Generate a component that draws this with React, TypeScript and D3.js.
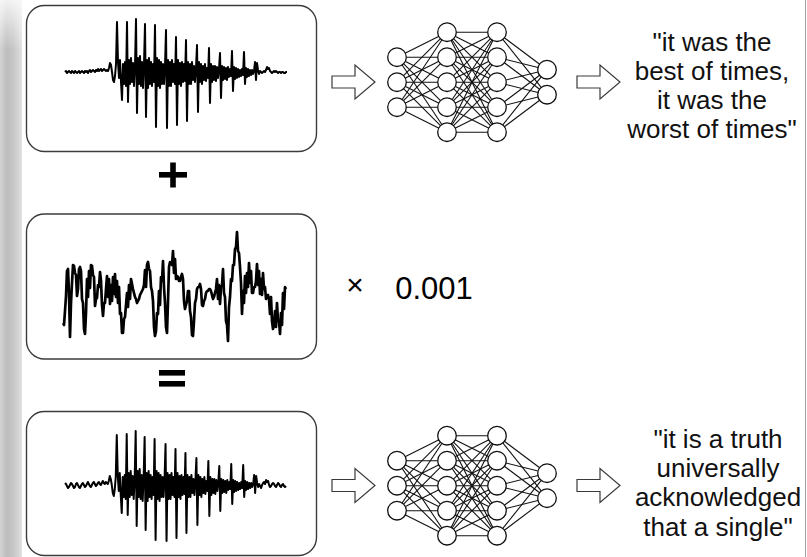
import React from 'react';
import * as d3 from 'd3';

// clean utterance, amplitude per sample (up = positive)
const cleanSpeech = [
  0, 1, -1, 0, 1, 0, -1, 1, 0, -1, 1, 0, -1, 0, 1, -1, 0, 1, 0, -1, 1, 0, 1, -1, 1, 2, 0, 1, 2, 1, 0, 2, 1, 3, 1, 2, 3, 1, 2, 3, 2, 1, 2, 1,
  4, 9, 7, 0, -8, -10, -4, 8,
  50, 10, -6, 12, -10, -28, 8, -12, 10, -14,
  50, -30, 12, -12, 14, -10, 9, -14, 6,
  53, -41, 14, -12, 16, -14, 10, -16, 8,
  48, -45, 12, -16, 14, -12, 10, -14, 8, -10,
  47, -55, 14, -14, 12, -16, 10, -12, 8, -12, 6,
  42, -56, 12, -14, 10, -14, 12, -10, 8, -12,
  35, -53, 12, -12, 9, -14, 10, -10, 8, -9,
  32, -49, 10, -12, 8, -12, 10, -8, 6, -10, 4,
  27, -40, 10, -10, 8, -12, 6, -8, 8, -9, 4, -6,
  24, -31, 8, -10, 6, -8, 6, -9, 5, -6, 3,
  19, -26, 6, -8, 5, -7, 4, -8, 5, -5, 3, -4,
  21, -19, 5, -7, 4, -6, 3, -5, 2, -4, 3, -3,
  20, -12, 4, -5, 3, -4, 2, -3, 2, -2, 1,
  10, -8, 9, 2, -2, 1, 0, -1, 0, 1, 0, 2,
  5, 3, 4, 1, 0, -1, 0, 1, 0, 1, 0, -1, 0, 0, -1, 0, 0, -1, -1, 0, 0,
];

// perturbation (drawn enlarged)
const perturbation = [
  -36, -38, -24, -9, 16, 18, -6, -50, -16, 4, 22, 21, 14, 12, -9, -2, 18, 20, 16, -12,
  -16, -42, -47, -26, 8, -10, 16, -1, 22, 21, 12, 10, -19, -12, -11, 2, 0, 15, 6, -18,
  -29, -16, -16, -2, 11, -10, 8, -17, 2, -14, 10, -7, 13, -10, 6, -16, 0, -27, -26, -46,
  -46, -32, -30, -18, -6, -20, 2, -12, 8, 3, -2, -6, -10, -12, -16, -14, -12, -8, -6, -4,
  -2, 2, 17, 0, 22, 25, 18, 16, 0, -4, -14, -40, -49, -44, -26, -27, -4, -18, 10, 6,
  26, 0, -16, -40, -46, -14, 20, 25, 24, 22, 36, 14, 28, 8, 11, 10, 6, 6, 10, 13,
  8, -14, -22, -18, -14, -4, -4, -24, -30, -48, -49, -34, -16, -12, -2, 0, 0, 3, -2, -18,
  -19, -14, -12, -6, -4, -4, -2, -2, -4, -8, -12, -10, -6, -2, 8, -12, 2, -17, 0, 2,
  18, -6, -10, -34, -38, -54, -20, -10, 8, 6, 22, 22, 38, 40, 55, 36, 34, 20, 4, -27,
  -4, -16, 11, -6, 14, 0, 24, 4, 16, -6, -6, 0, 0, 6, 23, 2, 16, -7, 8, -8,
  14, -2, 0, -12, -9, -8, -12, -27, -10, -34, -42, -38, -24, -40, -16, -34, -34, -47, -26, -38,
  -6, -22, 0, -2,
];

// clean + perturbation
const adversarialSpeech = [
  2, 1, -1, -3, -2, 0, 2, 1, -1, -3, -2, 1, 2, 0, -2, -3, -1, 1, 2, 0, -2, -1, 1, 3, 1, -1, -2, 0, 2, 3, 1, -1, 0, 2, 3, 1, 0, 2, 4, 2, 1, 3, 2, 1,
  4, 9, 6, 0, -8, -11, -4, 8,
  50, 10, -6, 12, -10, -28, 8, -12, 10, -14,
  51, -30, 12, -12, 14, -10, 9, -14, 6,
  54, -41, 14, -12, 16, -14, 10, -16, 8,
  48, -45, 12, -16, 14, -12, 10, -14, 8, -10,
  46, -55, 14, -14, 12, -16, 10, -12, 8, -12, 6,
  41, -56, 12, -14, 10, -14, 12, -10, 8, -12,
  36, -53, 12, -12, 9, -14, 10, -10, 8, -9,
  32, -48, 10, -12, 8, -12, 10, -8, 6, -10, 4,
  27, -40, 10, -10, 8, -12, 6, -8, 8, -9, 4, -6,
  24, -31, 8, -10, 6, -8, 6, -9, 5, -6, 3,
  19, -26, 6, -8, 5, -7, 4, -8, 5, -5, 3, -4,
  21, -19, 5, -7, 4, -6, 3, -5, 2, -4, 3, -3,
  20, -12, 4, -5, 3, -4, 2, -3, 2, -2, 1,
  10, -8, 9, 2, -2, 1, -1, -3, 0, 2, 3, 1,
  5, 3, 4, 0, -2, -1, 1, 2, 1, -1, -2, 0, 2, 1, -1, -2, 0, 1, -1, -2, -1,
];

const layerSizes = [3, 5, 5, 2];
const scaleFactor = '0.001';
const transcriptClean = ['"it was the', 'best of times,', 'it was the', 'worst of times"'];
const transcriptAdv = ['"it is a truth', 'universally', 'acknowledged', 'that a single"'];

const FONT = "'Liberation Sans', Arial, Helvetica, sans-serif";
const BOX_STROKE = '#3c3c3c';

function Wave({ values, x0, x1, cy, sw }: { values: number[]; x0: number; x1: number; cy: number; sw: number }) {
  const x = d3.scaleLinear().domain([0, values.length - 1]).range([x0, x1]);
  const y = d3.scaleLinear().domain([-60, 60]).range([cy + 60, cy - 60]);
  const line = d3.line<number>().x((_, i) => x(i)).y((d) => y(d));
  return <path d={line(values) || ''} fill="none" stroke="#000" strokeWidth={sw} strokeLinejoin="round" />;
}

function Net({ cx0, cy }: { cx0: number; cy: number }) {
  const lx = d3.scaleLinear().domain([0, layerSizes.length - 1]).range([cx0, cx0 + 150]);
  const nodes = layerSizes.map((n, li) =>
    d3.range(n).map((k) => ({ x: lx(li), y: cy + (k - (n - 1) / 2) * 25 }))
  );
  const links: { a: { x: number; y: number }; b: { x: number; y: number } }[] = [];
  for (let li = 0; li < nodes.length - 1; li++) {
    nodes[li].forEach((a) => nodes[li + 1].forEach((b) => links.push({ a, b })));
  }
  return (
    <g>
      {links.map((l, i) => (
        <line key={i} x1={l.a.x} y1={l.a.y} x2={l.b.x} y2={l.b.y} stroke="#111" strokeWidth={1.1} />
      ))}
      {nodes.flat().map((p, i) => (
        <circle key={i} cx={p.x} cy={p.y} r={9.3} fill="#fff" stroke="#111" strokeWidth={1.3} />
      ))}
    </g>
  );
}

function Arrow({ x, cy }: { x: number; cy: number }) {
  const d = `M${x},${cy - 6}H${x + 23}V${cy - 17}L${x + 43},${cy}L${x + 23},${cy + 17}V${cy + 6}H${x}Z`;
  return <path d={d} fill="#fff" stroke="#3a3a3a" strokeWidth={1.2} strokeLinejoin="miter" />;
}

function Transcript({ lines, cx, y0 }: { lines: string[]; cx: number; y0: number }) {
  return (
    <text textAnchor="middle" fontFamily={FONT} fontSize={26} fill="#111">
      {lines.map((t, i) => (
        <tspan key={i} x={cx} y={y0 + i * 29.2}>{t}</tspan>
      ))}
    </text>
  );
}

export default function App() {
  const W = 807;
  const H = 557;
  return (
    <svg width={W} height={H} viewBox={`0 0 ${W} ${H}`} style={{ position: 'absolute', left: 0, top: 0, background: '#fff' }}>
      <defs>
        <linearGradient id="strip" x1="0" x2="1" y1="0" y2="0">
          <stop offset="0" stopColor="#d4d4d4" />
          <stop offset="0.3" stopColor="#bdbdbd" />
          <stop offset="0.6" stopColor="#c6c6c6" />
          <stop offset="0.85" stopColor="#d6d6d6" />
          <stop offset="1" stopColor="#e2e2e2" />
        </linearGradient>
        <linearGradient id="stripTop" x1="0" x2="0" y1="0" y2="1">
          <stop offset="0" stopColor="#fff" stopOpacity={0.8} />
          <stop offset="1" stopColor="#fff" stopOpacity={0} />
        </linearGradient>
      </defs>

      {/* window edge decorations */}
      <rect x={0} y={0} width={22} height={H} fill="url(#strip)" />
      <rect x={0} y={0} width={22} height={50} fill="url(#stripTop)" />
      <line x1={805.5} y1={0} x2={805.5} y2={H} stroke="#a0a0a0" strokeWidth={1} />

      {/* boxes */}
      <rect x={26.5} y={5.5} width={290} height={146} rx={18} fill="#fff" stroke={BOX_STROKE} strokeWidth={1.4} />
      <rect x={26.5} y={214} width={290} height={145} rx={18} fill="#fff" stroke={BOX_STROKE} strokeWidth={1.4} />
      <rect x={26.5} y={411.5} width={290} height={144} rx={18} fill="#fff" stroke={BOX_STROKE} strokeWidth={1.4} />

      <Wave values={cleanSpeech} x0={65} x1={287} cy={72} sw={2} />
      <Wave values={perturbation} x0={63} x1={286} cy={287} sw={2.7} />
      <Wave values={adversarialSpeech} x0={65} x1={286} cy={485} sw={2} />

      {/* plus and equals */}
      <rect x={159} y={172} width={28} height={5.6} fill="#000" />
      <rect x={170.2} y={162.5} width={5.6} height={25} fill="#000" />
      <rect x={159} y={370} width={26} height={5.6} fill="#000" />
      <rect x={159} y={381} width={26} height={5.6} fill="#000" />

      {/* top row */}
      <Arrow x={332} cy={82} />
      <Net cx0={397} cy={82.2} />
      <Arrow x={577} cy={82} />
      <Transcript lines={transcriptClean} cx={712} y0={50.5} />

      {/* middle */}
      <text x={355} y={295} textAnchor="middle" fontFamily={FONT} fontSize={30} fill="#000">×</text>
      <text x={434} y={299} textAnchor="middle" fontFamily={FONT} fontSize={31} fill="#000">{scaleFactor}</text>

      {/* bottom row */}
      <Arrow x={332} cy={485.5} />
      <Net cx0={397} cy={485.7} />
      <Arrow x={577} cy={485.5} />
      <Transcript lines={transcriptAdv} cx={718} y0={448} />
    </svg>
  );
}
